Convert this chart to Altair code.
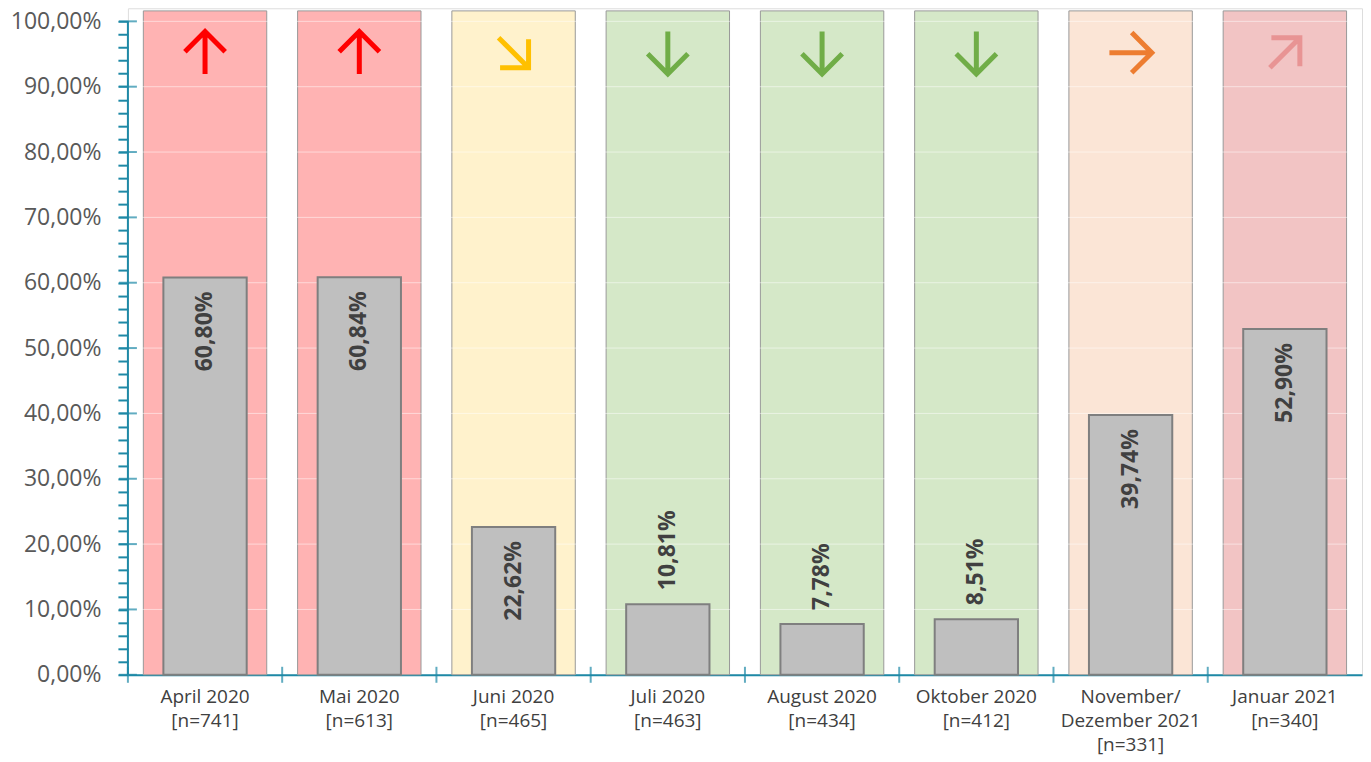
import altair as alt
import pandas as pd

# ---- data ----
categories = ["April 2020", "Mai 2020", "Juni 2020", "Juli 2020", "August 2020",
              "Oktober 2020", "November/|Dezember 2021", "Januar 2021"]
n_values = [741, 613, 465, 463, 434, 412, 331, 340]
values = [60.80, 60.84, 22.62, 10.81, 7.78, 8.51, 39.74, 52.90]
trend_angles = [0, 0, 135, 180, 180, 180, 90, 45]
bg_colors = ["#FFB3B3", "#FFB3B3", "#FFF2CC", "#D5E8C8", "#D5E8C8", "#D5E8C8", "#FBE5D6", "#F2C4C4"]
arrow_colors = ["#FF0000", "#FF0000", "#FFC000", "#70AD47", "#70AD47", "#70AD47", "#ED7D31", "#E89494"]
y_major = list(range(0, 101, 10))
y_all_ticks = list(range(0, 101, 2))

TEAL = "#1E89A6"
FONT = "Open Sans"

cats = [f"{c}|[n={n}]" for c, n in zip(categories, n_values)]
df = pd.DataFrame({
    "cat": cats,
    "value": values,
    "angle": trend_angles,
    "bg": bg_colors,
    "arrow": arrow_colors,
    "label": [f"{v:.2f}".replace(".", ",") + "%" for v in values],
})
df["inside"] = df["value"] > 15

xaxis = alt.Axis(
    labelAngle=0, ticks=False, domainColor=TEAL, domainWidth=2,
    labelFont=FONT, labelFontSize=19, labelColor="#404040",
    labelPadding=13, labelLineHeight=24,
    labelExpr="split(datum.label, '|')",
)
xscale = alt.Scale(paddingInner=0, paddingOuter=0)
x = alt.X("cat:N", sort=cats, title=None, scale=xscale, axis=xaxis)

yscale = alt.Scale(domain=[0, 102], nice=False, zero=True)
yaxis = alt.Axis(values=y_all_ticks, domain=False, grid=False,
                 tickColor=TEAL, tickWidth=2, tickSize=10,
                 labelPadding=17, labelFont=FONT, labelFontSize=23,
                 labelColor="#595959", minExtent=120, maxExtent=120,
                 labelOverlap=False, labelFlush=False,
                 labelExpr="datum.value % 10 == 0 ? replace(format(datum.value, '.2f'), '.', ',') + '%' : ''")


def Y(field):
    return alt.Y(field, scale=yscale, axis=yaxis, title=None)


base = alt.Chart(df)

bg = base.mark_bar(width=alt.RelativeBandSize(0.8), stroke="#999999", strokeWidth=1).encode(
    x=x, y=Y("top:Q"),
    color=alt.Color("bg:N", scale=None),
).transform_calculate(top="101.6")

grid = alt.Chart(pd.DataFrame({"v": y_major[1:]})).mark_rule(
    color="white", opacity=0.5, strokeWidth=1
).encode(y=Y("v:Q"))

bars = base.mark_bar(width=alt.RelativeBandSize(0.54), color="#BFBFBF",
                     stroke="#7F7F7F", strokeWidth=2).encode(
    x=x, y=Y("value:Q")
)

text_in = base.transform_filter("datum.inside").mark_text(
    angle=270, align="right", baseline="middle", dx=-14,
    font=FONT, fontSize=23, fontWeight="bold", color="#404040"
).encode(x=x, y=Y("value:Q"), text="label:N")

text_out = base.transform_filter("!datum.inside").mark_text(
    angle=270, align="left", baseline="middle", dx=14,
    font=FONT, fontSize=23, fontWeight="bold", color="#404040"
).encode(x=x, y=Y("value:Q"), text="label:N")

arrow_path = "M0,-1 L0,1 M-0.95,-0.05 L0,-1 L0.95,-0.05"
arrows = base.mark_point(shape=arrow_path, filled=False, strokeWidth=5, size=1800,
                         opacity=1, strokeJoin="miter", strokeCap="butt").encode(
    x=x, y=Y("ay:Q"),
    angle=alt.Angle("angle:Q", scale=None),
    color=alt.Color("arrow:N", scale=None),
).transform_calculate(ay="95.2")

yaxis_line = alt.Chart(pd.DataFrame({"a": [0], "b": [100]})).mark_rule(
    color=TEAL, strokeWidth=2
).encode(x=alt.value(0), y=Y("a:Q"), y2="b:Q")

major_ticks = alt.Chart(pd.DataFrame({"v": y_major})).mark_tick(
    orient="horizontal", size=18, thickness=2, color=TEAL
).encode(x=alt.value(0), y=Y("v:Q"))

xticks = base.mark_tick(orient="vertical", size=16, thickness=2, color=TEAL).encode(
    x=alt.X("cat:N", sort=cats, bandPosition=0, axis=xaxis, title=None, scale=xscale),
    y=Y("z:Q"),
).transform_calculate(z="0")

chart = alt.layer(bg, grid, bars, text_in, text_out, arrows, yaxis_line, major_ticks, xticks).properties(
    width=1235, height=667,
    padding={"left": 0, "top": 0, "right": 0, "bottom": 0},
).configure_view(stroke=None).configure(background="white")

chart.save("out.html", embed_options={"renderer": "svg", "actions": False})
